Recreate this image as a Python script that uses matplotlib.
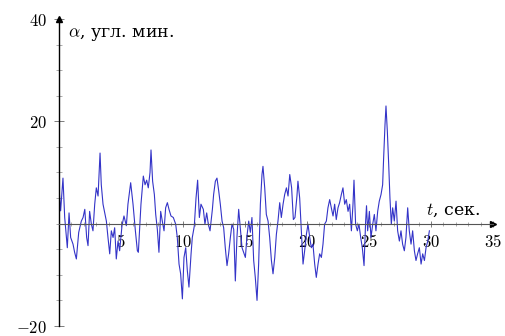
import matplotlib
matplotlib.use("Agg")
import matplotlib.pyplot as plt
from matplotlib.ticker import MultipleLocator

plt.rcParams['mathtext.fontset'] = 'cm'

t = [0.0, 0.13, 0.32, 0.46, 0.67, 0.81, 0.94, 1.13, 1.26, 1.40, 1.59, 1.80, 1.94, 2.08, 2.23, 2.34,
     2.47, 2.61, 2.74, 2.88, 3.01, 3.15, 3.31, 3.41, 3.55, 3.82, 3.95, 4.09, 4.22, 4.36, 4.49, 4.62,
     4.76, 4.89, 5.08, 5.24, 5.43, 5.56, 5.78, 5.97, 6.16, 6.32,
     6.40, 6.61, 6.80, 6.94, 7.07, 7.20, 7.34, 7.42, 7.55, 7.69, 7.80, 7.93, 8.06, 8.20, 8.33, 8.47,
     8.60, 8.74, 8.87, 9.03, 9.22, 9.41, 9.54, 9.68, 9.81, 9.95, 10.08, 10.22, 10.35, 10.48, 10.65,
     10.75, 10.91, 11.05, 11.18, 11.32, 11.45, 11.64, 11.77, 11.91, 12.04, 12.18, 12.37,
     12.47, 12.61, 12.74, 12.88, 13.01, 13.15, 13.28, 13.41, 13.55, 13.68, 13.82, 13.95, 14.09, 14.22,
     14.35, 14.49, 14.62, 14.76, 14.89, 15.03, 15.16, 15.30, 15.43, 15.56, 15.70, 15.83, 15.97, 16.10,
     16.24, 16.37, 16.45, 16.59, 16.72, 16.86, 16.99, 17.13, 17.26, 17.40, 17.53, 17.66, 17.80, 17.93,
     18.07, 18.20, 18.34, 18.47, 18.61, 18.76,
     18.90, 19.03, 19.19, 19.27, 19.41, 19.54, 19.68, 19.81, 19.95, 20.08, 20.22, 20.35, 20.48, 20.62,
     20.75, 20.89, 21.02, 21.16, 21.29, 21.42, 21.56, 21.69, 21.83, 21.96, 22.10, 22.23, 22.36, 22.50,
     22.63, 22.77, 22.90, 23.04, 23.17, 23.31, 23.44, 23.58, 23.71, 23.79, 23.92, 24.06, 24.19, 24.33,
     24.46, 24.60, 24.73, 24.80,
     24.89, 25.03, 25.16, 25.30, 25.43, 25.56, 25.70, 25.83, 25.97, 26.10, 26.18, 26.29, 26.37, 26.48,
     26.59, 26.69, 26.80, 26.91, 27.04, 27.18, 27.31, 27.45, 27.58, 27.71, 27.85, 27.98, 28.12, 28.25,
     28.39, 28.52, 28.66, 28.79, 28.92, 29.06, 29.20, 29.33, 29.47, 29.60, 29.74, 29.87]

alpha = [7.0, 2.5, 8.9, 1.2, -4.7, 2.1, -2.7, -4.0, -5.6, -6.9, -1.7, 0.5, 1.2, 2.8, -2.7, -4.3,
         2.4, -0.1, -1.4, 3.8, 7.0, 5.4, 13.8, 7.6, 3.8, 0.5, -2.7, -5.9, -1.4, -2.7, -0.8, -6.9,
         -3.4, -5.3, -0.4, 1.5, -0.4, 3.8, 8.0, 3.8, -1.4, -5.3,
         -5.6, 3.8, 9.3, 7.6, 8.5, 7.0, 10.0, 14.4, 8.3, 5.7, 1.8, -1.1, -5.6, 2.4, 0.5, -1.4,
         3.1, 4.1, 2.8, 1.5, 1.2, -0.1, -2.7, -7.9, -9.8, -14.7, -6.6, -4.7, -9.2, -12.4, -5.9,
         -2.7, -0.5, 5.0, 8.5, 1.2, 3.8, 2.8, -0.1, 2.1, -0.1, -1.4, 2.8,
         5.7, 8.3, 8.9, 6.4, 3.8, 0.5, -0.8, -4.7, -8.2, -5.9, -2.7, -0.1, -1.1, -11.2,
         -2.7, 2.8, -0.8, -4.7, -5.6, -6.6, -2.4, 0.5, -1.7, 1.2, -7.2, -10.5, -15.0, -7.9,
         3.8, 9.6, 11.2, 7.0, 1.8, 0.5, -2.7, -7.2, -9.8, -6.6, -2.1, 0.5, 4.1, 1.2,
         3.8, 5.7, 7.0, 5.4, 9.6, 7.0,
         0.8, 1.2, 5.4, 8.3, 5.0, -1.4, -7.9, -5.3, -2.1, -0.1, -2.7, -4.7, -4.0, -7.9,
         -10.5, -7.9, -5.9, -6.6, -4.0, -0.1, 0.5, 3.1, 4.7, 3.1, 1.5, 3.8, 0.8, 3.1,
         4.1, 5.7, 7.0, 3.8, 4.7, 2.4, 3.8, -1.4, 3.8, 8.5, -0.1, -1.4, -0.1, -2.7,
         -4.7, -8.2, 0.5, 3.5,
         -1.4, 2.4, -2.7, -0.1, 1.8, -1.4, 2.4, 4.4, 5.7, 7.6, 12.8, 19.3, 23.0, 18.0,
         11.5, 5.0, -0.1, 3.1, 0.5, 4.4, -1.4, -3.4, -1.4, -4.0, -5.3, -2.7, 3.1, -1.4,
         -4.0, -1.4, -5.3, -7.2, -5.9, -4.7, -7.9, -5.9, -7.2, -4.7, -3.4, -1.4]

xticks = [5, 10, 15, 20, 25, 30, 35]
xticklabels = ['$5$', '$10$', '$15$', '$20$', '$25$', '$30$', '$35$']
yticks = [-20, 20, 40]
yticklabels = ['$-20$', '$20$', '$40$']

fig = plt.figure(figsize=(5.06, 3.36), dpi=100)
ax = fig.add_axes([0.1166, 0.0298, 0.8577, 0.9137])
ax.set_xlim(0, 35)
ax.set_ylim(-20, 40)

ax.plot(t, alpha, color='#3434c8', lw=0.8)

for s in ['top', 'right']:
    ax.spines[s].set_visible(False)
ax.spines['bottom'].set_position(('data', 0))
ax.spines['left'].set_position(('data', 0))
ax.spines['bottom'].set_color('#555555')
ax.spines['bottom'].set_linewidth(0.8)
ax.spines['left'].set_linewidth(1.0)

ax.plot(1, 0, '>', color='black', ms=4, transform=ax.get_yaxis_transform(), clip_on=False)
ax.plot(0, 1, '^', color='black', ms=4, transform=ax.get_xaxis_transform(), clip_on=False)

ax.set_xticks(xticks)
ax.set_xticklabels(xticklabels)
ax.set_yticks(yticks)
ax.set_yticklabels(yticklabels)
for lab in ax.get_yticklabels():
    lab.set_verticalalignment('center_baseline')
ax.xaxis.set_minor_locator(MultipleLocator(1))
ax.yaxis.set_minor_locator(MultipleLocator(5))
ax.tick_params(axis='x', which='major', direction='inout', length=5, width=0.6, color='#666666',
               labelsize=12, pad=4)
ax.tick_params(axis='x', which='minor', direction='inout', length=3, width=0.5, color='#888888')
ax.tick_params(axis='y', which='major', direction='inout', length=7, width=0.6, color='#666666',
               labelsize=12, pad=5)
ax.tick_params(axis='y', which='minor', direction='inout', length=5, width=0.5, color='#888888')

ax.text(0.7, 37.0, r'$\alpha$, угл. мин.', fontsize=12.5, family='DejaVu Serif',
        ha='left', va='center')
ax.text(29.6, 2.6, r'$t$, сек.', fontsize=12.5, family='DejaVu Serif',
        ha='left', va='center')

fig.savefig('out.png', dpi=100)
